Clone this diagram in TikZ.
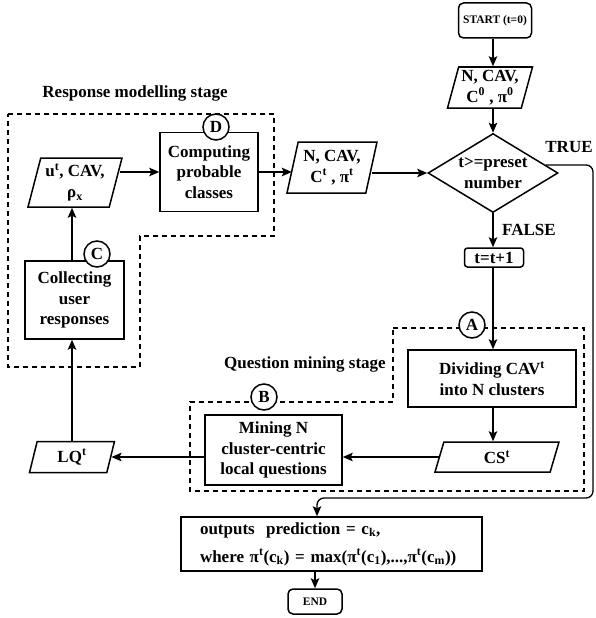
\documentclass[tikz,border=0pt]{standalone}
\usepackage{fontspec}
\setmainfont{Liberation Serif}
\usetikzlibrary{shapes.geometric,arrows.meta,calc}
\begin{document}
\begin{tikzpicture}[x=1pt,y=-1pt,
  every node/.style={font=\fontsize{17}{20.5}\selectfont\bfseries},
  small/.style={font=\fontsize{11.5}{13}\selectfont\bfseries},
  box/.style={draw, line width=1.5pt, align=center, inner sep=0pt},
  para/.style={trapezium, trapezium stretches body=true, draw, line width=1.5pt, align=center, inner sep=0pt},
  diam/.style={diamond, draw, line width=1.5pt, inner sep=0pt, minimum width=130pt, minimum height=79pt},
  circ/.style={circle, draw, line width=1.5pt, fill=white, minimum size=26pt, inner sep=0pt},
  region/.style={draw, line width=1.3pt, dash pattern=on 5pt off 4pt},
  arr/.style={line width=1.6pt, -{Stealth[length=10pt,width=8.5pt,inset=2pt]}}
]
\useasboundingbox (0,0) rectangle (595,618);

% dashed stage regions
\draw[region] (8,114) -- (274,114) -- (274,236) -- (140,236) -- (140,367) -- (8,367) -- cycle;
\draw[region] (393,328) -- (584,328) -- (584,491) -- (190,491) -- (190,402) -- (393,402) -- cycle;

% stage labels
\node (rms) at (135,93) {Response modelling stage};
\node (qms) at (305,364) {Question mining stage};

% nodes
\node[box, rounded corners=5pt, minimum width=73pt, minimum height=35pt, small] (start) at (495,20.5) {START (t=0)};
\node[para, trapezium left angle=72, trapezium right angle=108, minimum width=85pt, minimum height=41pt] (p1) at (490,87.5) {N, CAV,\\C\textsuperscript{0} , π\textsuperscript{0}};
\node[diam] (d) at (493,173) {};
\node[align=center, inner sep=0pt] (dt) at (493,173) {t>=preset\\number};
\node (true) at (569,147) {TRUE};
\node (false) at (529,230) {FALSE};
\node[box, rounded corners=3pt, minimum width=59pt, minimum height=19pt] (inc) at (494,257.5) {t=t+1};
\node[box, minimum width=168pt, minimum height=57pt] (div) at (492,378.5) {Dividing CAV\textsuperscript{t}\\into N clusters};
\node[para, trapezium left angle=56, trapezium right angle=124, minimum width=124pt, minimum height=30pt] (cs) at (497,457) {CS\textsuperscript{t}};
\node[box, minimum width=137pt, minimum height=70pt] (mine) at (273.5,450) {Mining N\\cluster-centric\\local questions};
\node[para, trapezium left angle=64, trapezium right angle=116, minimum width=85pt, minimum height=31pt] (lq) at (72,457) {LQ\textsuperscript{t}};
\node[box, minimum width=99pt, minimum height=78pt] (coll) at (74.5,300) {Collecting\\user\\responses};
\node[para, trapezium left angle=71, trapezium right angle=109, minimum width=94pt, minimum height=49pt] (u) at (75,182.5) {u\textsuperscript{t}, CAV,\\ρ\textsubscript{x}};
\node[box, minimum width=98pt, minimum height=79pt] (comp) at (209,172) {Computing\\probable\\classes};
\node[para, trapezium left angle=72, trapezium right angle=108, minimum width=90pt, minimum height=51pt] (p2) at (332,167.5) {N, CAV,\\C\textsuperscript{t} , π\textsuperscript{t}};
\node[box, minimum width=301pt, minimum height=54pt, text width=263pt, inner xsep=19pt, align=left, font=\fontsize{17}{28}\selectfont\bfseries] (out) at (331.5,544) {outputs\ \ prediction = c\textsubscript{k},\\where π\textsuperscript{t}(c\textsubscript{k}) = max(π\textsuperscript{t}(c\textsubscript{1}),...,π\textsuperscript{t}(c\textsubscript{m}))};
\node[box, rounded corners=5pt, minimum width=54pt, minimum height=25pt, small] (end) at (315,601.5) {END};

% connectors
\draw[arr] (start.south -| d.north) -- (p1.north -| d.north);
\draw[arr] (p1.south -| d.north) -- (d.north);
\draw[arr] (d.south) -- (inc.north -| d.south);
\draw[arr] (inc.south -| d.south) -- (div.north -| d.south);
\draw[arr] (div.south -| d.south) -- (cs.north -| d.south);
\draw[arr] (cs.west) -- (cs.west -| mine.east);
\draw[arr] (mine.west |- lq.east) -- (lq.east);
\draw[arr] (lq.north) -- (lq.north |- coll.south);
\draw[arr] (lq.north |- coll.north) -- (lq.north |- u.south);
\draw[arr] ($(comp.west -| u.east)+(4,0)$) -- (comp.west);
\draw[arr] (comp.east) -- (comp.east -| p2.west);
\draw[arr] (p2.east |- d.west) -- (d.west);
\coordinate (ts) at ($(d.east)!0.2!(d.north)$);
\coordinate (tb) at (593,498);
\coordinate (tl) at (317,498);
\draw[arr, line width=1.3pt, rounded corners=7pt] (ts) -- (ts -| tb) -- (tb) -- (tl) -- (tl |- out.north);
\draw[arr] (out.south -| end.north) -- (end.north);

% stage markers
\node[circ] (ca) at (472,325) {A};
\node[circ] (cb) at (264,397) {B};
\node[circ] (cc) at (97,254) {C};
\node[circ] (cd) at (216,127) {D};
\end{tikzpicture}
\end{document}
